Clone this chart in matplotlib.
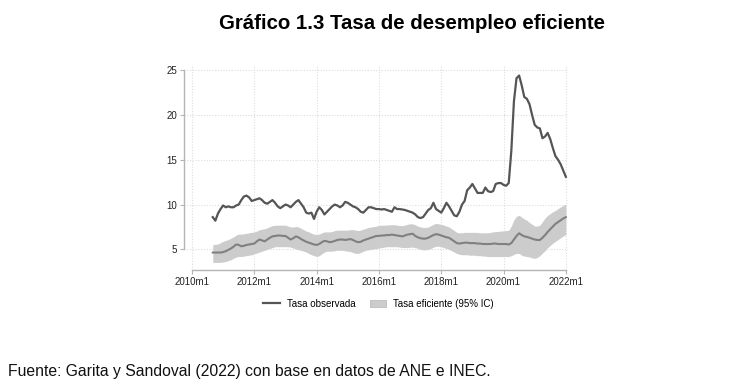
import numpy as np
import matplotlib
matplotlib.use("Agg")
import matplotlib.pyplot as plt
from matplotlib.lines import Line2D
from matplotlib.patches import Patch

plt.rcParams['font.family'] = ['Liberation Sans', 'DejaVu Sans']

# months counted from 2010m1 = 0; series run 2010m9 .. 2022m1
start_month = 8
tick_months = [0, 24, 48, 72, 96, 120, 144]
tick_labels = ["2010m1", "2012m1", "2014m1", "2016m1", "2018m1", "2020m1", "2022m1"]
y_ticks = [5, 10, 15, 20, 25]

observada = [
    8.6, 8.2, 9.0, 9.5,
    9.9, 9.7, 9.8, 9.7, 9.7, 9.9, 10.0, 10.5, 10.9, 11.0, 10.8, 10.4,
    10.5, 10.6, 10.7, 10.5, 10.2, 10.1, 10.3, 10.5, 10.2, 9.8, 9.6, 9.8,
    10.0, 9.9, 9.7, 10.0, 10.3, 10.5, 10.1, 9.7, 9.1, 9.0, 9.1, 8.4,
    9.2, 9.7, 9.4, 8.9, 9.2, 9.5, 9.8, 10.0, 9.9, 9.7, 9.9, 10.3,
    10.2, 10.0, 9.8, 9.7, 9.5, 9.2, 9.1, 9.4, 9.7, 9.7, 9.6, 9.5,
    9.5, 9.45, 9.5, 9.4, 9.3, 9.2, 9.7, 9.5, 9.5, 9.45, 9.4, 9.3,
    9.2, 9.1, 8.9, 8.6, 8.5, 8.6, 9.0, 9.4, 9.6, 10.2, 9.5, 9.3,
    9.1, 9.6, 10.2, 9.8, 9.3, 8.8, 8.7, 9.2, 10.0, 10.4, 11.6, 11.9,
    12.3, 11.8, 11.3, 11.3, 11.3, 11.9, 11.5, 11.4, 11.5, 12.3, 12.4, 12.4,
    12.2, 12.1, 12.4, 16.0, 21.5, 24.1, 24.4, 23.3, 22.0, 21.8, 21.2, 20.0,
    18.9, 18.6, 18.5, 17.4, 17.6, 18.0, 17.3, 16.3, 15.4, 15.0, 14.5, 13.8,
    13.1,
]

eficiente = [
    4.65, 4.65, 4.65, 4.65,
    4.7, 4.8, 4.95, 5.1, 5.3, 5.55, 5.5, 5.35, 5.4, 5.5, 5.55, 5.6,
    5.65, 5.9, 6.1, 6.0, 5.9, 6.1, 6.3, 6.45, 6.5, 6.55, 6.55, 6.5,
    6.5, 6.3, 6.1, 6.25, 6.45, 6.35, 6.15, 6.0, 5.85, 5.75, 5.65, 5.55,
    5.5, 5.6, 5.8, 5.95, 5.9, 5.8, 5.85, 5.95, 6.05, 6.1, 6.1, 6.05,
    6.1, 6.15, 6.05, 5.9, 5.8, 5.85, 6.0, 6.1, 6.2, 6.3, 6.4, 6.5,
    6.5, 6.55, 6.55, 6.6, 6.6, 6.65, 6.6, 6.55, 6.5, 6.45, 6.55, 6.65,
    6.7, 6.75, 6.5, 6.35, 6.25, 6.2, 6.2, 6.3, 6.45, 6.6, 6.7, 6.65,
    6.55, 6.45, 6.35, 6.3, 6.1, 5.9, 5.7, 5.65, 5.7, 5.75, 5.75, 5.7,
    5.7, 5.7, 5.65, 5.65, 5.6, 5.6, 5.6, 5.6, 5.65, 5.65, 5.6, 5.6,
    5.6, 5.6, 5.55, 5.7, 6.1, 6.5, 6.8, 6.6, 6.45, 6.4, 6.3, 6.2,
    6.1, 6.05, 6.05, 6.3, 6.6, 6.95, 7.25, 7.55, 7.85, 8.05, 8.25, 8.45,
    8.6,
]

ic_sup = [
    5.55, 5.55, 5.6, 5.75,
    5.9, 6.0, 6.1, 6.25, 6.4, 6.6, 6.7, 6.7, 6.75, 6.8, 6.85, 6.9,
    6.95, 7.05, 7.2, 7.25, 7.3, 7.4, 7.55, 7.65, 7.7, 7.7, 7.7, 7.7,
    7.7, 7.6, 7.5, 7.5, 7.55, 7.5, 7.35, 7.2, 7.05, 6.95, 6.8, 6.7,
    6.65, 6.7, 6.85, 6.95, 6.95, 6.95, 7.0, 7.1, 7.15, 7.15, 7.15, 7.15,
    7.15, 7.2, 7.2, 7.15, 7.1, 7.15, 7.25, 7.35, 7.45, 7.5, 7.55, 7.6,
    7.65, 7.7, 7.7, 7.7, 7.75, 7.75, 7.75, 7.7, 7.65, 7.65, 7.7, 7.8,
    7.85, 7.85, 7.75, 7.6, 7.5, 7.45, 7.45, 7.5, 7.65, 7.8, 7.9, 7.85,
    7.8, 7.7, 7.6, 7.5, 7.3, 7.1, 6.9, 6.85, 6.85, 6.9, 6.9, 6.9,
    6.9, 6.9, 6.9, 6.85, 6.85, 6.85, 6.85, 6.9, 6.95, 7.0, 7.0, 7.05,
    7.05, 7.1, 7.15, 7.6, 8.3, 8.7, 8.8, 8.6, 8.4, 8.25, 8.0, 7.8,
    7.6, 7.6, 7.7, 8.1, 8.5, 8.8, 9.0, 9.2, 9.35, 9.55, 9.75, 9.9,
    10.05,
]

ic_inf = [
    3.55, 3.55, 3.55, 3.55,
    3.6, 3.65, 3.75, 3.85, 4.0, 4.15, 4.2, 4.2, 4.25, 4.3, 4.35, 4.4,
    4.5, 4.6, 4.7, 4.8, 4.9, 5.0, 5.1, 5.2, 5.3, 5.3, 5.3, 5.3,
    5.3, 5.3, 5.25, 5.15, 5.05, 4.95, 4.9, 4.8, 4.7, 4.55, 4.4, 4.3,
    4.2, 4.3, 4.5, 4.7, 4.8, 4.8, 4.8, 4.85, 4.9, 4.9, 4.9, 4.85,
    4.8, 4.75, 4.65, 4.55, 4.55, 4.65, 4.8, 4.9, 4.95, 5.0, 5.05, 5.1,
    5.15, 5.2, 5.25, 5.3, 5.3, 5.3, 5.3, 5.3, 5.25, 5.2, 5.2, 5.2,
    5.25, 5.25, 5.2, 5.1, 5.0, 4.95, 4.95, 5.0, 5.1, 5.25, 5.35, 5.35,
    5.3, 5.2, 5.1, 5.0, 4.85, 4.7, 4.55, 4.45, 4.4, 4.4, 4.4, 4.35,
    4.35, 4.35, 4.3, 4.3, 4.25, 4.25, 4.2, 4.2, 4.2, 4.2, 4.2, 4.2,
    4.2, 4.2, 4.2, 4.3, 4.45, 4.55, 4.55, 4.35, 4.25, 4.2, 4.15, 4.05,
    4.0, 4.1, 4.3, 4.6, 4.85, 5.2, 5.45, 5.7, 5.9, 6.1, 6.3, 6.5,
    6.65,
]

months = np.arange(start_month, start_month + len(observada))

fig = plt.figure(figsize=(7.54, 3.88), dpi=100)
ax = fig.add_axes([0.2443, 0.3041, 0.5096, 0.529])

ax.fill_between(months, ic_inf, ic_sup, color="#cccccc", linewidth=0, zorder=2)
ax.plot(months, eficiente, color="#808080", linewidth=1.5, zorder=3)
ax.plot(months, observada, color="#555555", linewidth=1.6, zorder=4)

ax.set_xlim(-3, 145)
ax.set_ylim(2.7, 25.6)
ax.set_xticks(tick_months)
ax.set_xticklabels(tick_labels)
ax.set_yticks(y_ticks)
ax.grid(True, linestyle=(0, (1, 1.5)), color="#dddddd", linewidth=0.8, zorder=0)

for side in ["top", "right"]:
    ax.spines[side].set_visible(False)
ax.spines["left"].set_bounds(5, 25)
ax.spines["bottom"].set_bounds(0, 144)
for side in ["left", "bottom"]:
    ax.spines[side].set_color("#b5b5b5")
    ax.spines[side].set_linewidth(1.0)
ax.tick_params(axis="both", colors="#b5b5b5", labelcolor="#222222",
               labelsize=7, length=3, width=0.8, pad=2)

fig.text(0.546, 0.94, "Gráfico 1.3 Tasa de desempleo eficiente",
         ha="center", va="center", fontsize=14.7, fontweight="bold")

handles = [Line2D([], [], color="#555555", linewidth=1.6),
           Patch(facecolor="#cccccc", edgecolor="#b5b5b5", linewidth=0.5)]
fig.legend(handles, ["Tasa observada", "Tasa eficiente (95% IC)"],
           loc="center", bbox_to_anchor=(0.502, 0.2165), ncol=2, frameon=False,
           fontsize=7, handlelength=1.7, handleheight=0.8, columnspacing=1.5,
           handletextpad=0.7)

fig.text(0.011, 0.042, "Fuente: Garita y Sandoval (2022) con base en datos de ANE e INEC.",
         ha="left", va="center", fontsize=11.35, color="#111111")

fig.savefig("out.png", dpi=100)
